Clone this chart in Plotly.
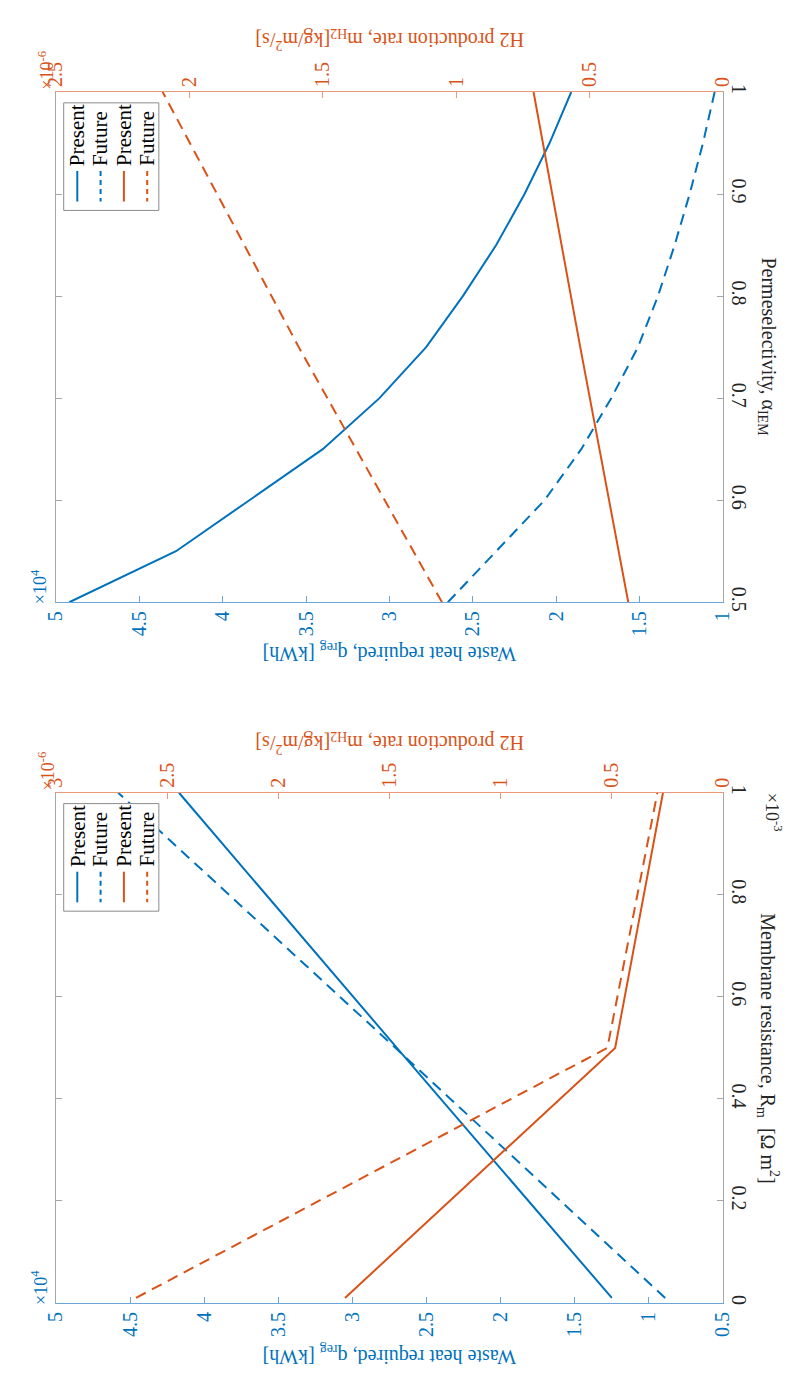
import plotly.graph_objects as go

W, H = 793, 1382
BLUE = "#0072BD"
ORANGE = "#D95319"
BLUE_LINE = "#6BA6D8"
ORANGE_LINE = "#EA9A78"
GRAY_LINE = "#A6A6A6"
DARK = "#262626"
FONT = "Liberation Serif"

# ---------------- data: top panel (permeselectivity) ----------------
alpha = [0.5, 0.55, 0.6, 0.65, 0.7, 0.75, 0.8, 0.85, 0.9, 0.95, 1.0]
heat_present_alpha = [4.92, 4.28, 3.84, 3.40, 3.06, 2.78, 2.56, 2.36, 2.19, 2.04, 1.91]  # x1e4 kWh
heat_future_alpha = [2.65, 2.36, 2.07, 1.85, 1.67, 1.51, 1.39, 1.29, 1.20, 1.12, 1.05]   # x1e4 kWh
alpha_h2 = [0.5, 0.75, 1.0]
h2_present_alpha = [0.355, 0.535, 0.71]  # x1e-6 kg/m2/s
h2_future_alpha = [1.053, 1.59, 2.10]    # x1e-6 kg/m2/s

# ---------------- data: bottom panel (membrane resistance) ----------------
rm = [0.01, 0.5, 1.0]                     # x1e-3 Ohm m2
heat_present_rm = [1.25, 2.70, 4.17]      # x1e4 kWh
heat_future_rm = [0.89, 2.71, 4.58]       # x1e4 kWh
h2_present_rm = [1.70, 0.485, 0.27]       # x1e-6 kg/m2/s
h2_future_rm = [2.64, 0.52, 0.295]        # x1e-6 kg/m2/s

# tick labels
heat_ticks_top = [1, 1.5, 2, 2.5, 3, 3.5, 4, 4.5, 5]
h2_ticks_top = [0, 0.5, 1, 1.5, 2, 2.5]
alpha_ticks = [0.5, 0.6, 0.7, 0.8, 0.9, 1.0]
heat_ticks_bot = [0.5, 1, 1.5, 2, 2.5, 3, 3.5, 4, 4.5, 5]
h2_ticks_bot = [0, 0.5, 1, 1.5, 2, 2.5, 3]
rm_ticks = [0, 0.2, 0.4, 0.6, 0.8, 1.0]
legend_labels = ["Present", "Future", "Present", "Future"]


def fmt(v):
    return "%g" % v


def px(x):
    return x / W


def py(y):
    return 1 - y / H


# layout geometry (pixels)
XL, XR = 37, 724
TOP1, BOT1 = 77, 594
TOP2, BOT2 = 787, 1304

fig = go.Figure()

DASH = "11px,7px"

# top panel traces
fig.add_trace(go.Scatter(x=heat_present_alpha, y=alpha, xaxis="x", yaxis="y", mode="lines",
                         line=dict(color=BLUE, width=2), showlegend=False))
fig.add_trace(go.Scatter(x=heat_future_alpha, y=alpha, xaxis="x", yaxis="y", mode="lines",
                         line=dict(color=BLUE, width=2, dash=DASH), showlegend=False))
fig.add_trace(go.Scatter(x=h2_present_alpha, y=alpha_h2, xaxis="x2", yaxis="y", mode="lines",
                         line=dict(color=ORANGE, width=2), showlegend=False))
fig.add_trace(go.Scatter(x=h2_future_alpha, y=alpha_h2, xaxis="x2", yaxis="y", mode="lines",
                         line=dict(color=ORANGE, width=2, dash=DASH), showlegend=False))

# bottom panel traces
fig.add_trace(go.Scatter(x=heat_present_rm, y=rm, xaxis="x3", yaxis="y2", mode="lines",
                         line=dict(color=BLUE, width=2), showlegend=False))
fig.add_trace(go.Scatter(x=heat_future_rm, y=rm, xaxis="x3", yaxis="y2", mode="lines",
                         line=dict(color=BLUE, width=2, dash=DASH), showlegend=False))
fig.add_trace(go.Scatter(x=h2_present_rm, y=rm, xaxis="x4", yaxis="y2", mode="lines",
                         line=dict(color=ORANGE, width=2), showlegend=False))
fig.add_trace(go.Scatter(x=h2_future_rm, y=rm, xaxis="x4", yaxis="y2", mode="lines",
                         line=dict(color=ORANGE, width=2, dash=DASH), showlegend=False))

xdom = [px(XL), px(XR)]


def tickfont(c):
    return dict(family=FONT, size=20, color=c)


def xax(rng, ticks, color, linecolor, side, anchor, overlaying=None):
    d = dict(range=rng, tickmode="array", tickvals=ticks, ticktext=[fmt(t) for t in ticks],
             tickangle=-90, ticks="inside", ticklen=6, tickcolor=linecolor,
             showline=True, linecolor=linecolor, linewidth=1, showgrid=False,
             zeroline=False, tickfont=tickfont(color), side=side, anchor=anchor,
             domain=xdom)
    if overlaying:
        d["overlaying"] = overlaying
        d.pop("domain")
    return d


def yax(rng, ticks, dom, anchor):
    return dict(range=rng, tickmode="array", tickvals=ticks, ticktext=[fmt(t) for t in ticks],
                tickangle=90, ticks="inside", ticklen=6, tickcolor=GRAY_LINE,
                showline=True, linecolor=GRAY_LINE, linewidth=1, mirror="ticks",
                showgrid=False, zeroline=False, tickfont=tickfont(DARK), side="right",
                anchor=anchor, domain=dom)


annotations = []
shapes = []


def ann(text, x, y, angle, color, size=20, xanchor="center", yanchor="middle"):
    annotations.append(dict(text=text, x=px(x), y=py(y), xref="paper", yref="paper",
                            textangle=angle, showarrow=False, xanchor=xanchor, yanchor=yanchor,
                            font=dict(family=FONT, size=size, color=color)))


def panel_text(top, bot, xtitle, h2_title_y, heat_title_y):
    ann("H2 production rate, m<sub>H2</sub>[kg/m<sup>2</sup>/s]", (XL + XR) / 2, h2_title_y, 180, ORANGE)
    ann("Waste heat required, q<sub>reg</sub> [kWh]", (XL + XR) / 2, heat_title_y, 180, BLUE)
    ann(xtitle, 770, (top + bot) / 2, 90, DARK)
    ann("×10<sup>4</sup>", 20, bot + 4, -90, BLUE, size=18, yanchor="bottom")
    ann("×10<sup>-6</sup>", 27, top, -90, ORANGE, size=18, yanchor="bottom")


def legend(top):
    bx0, bx1 = 45, 143
    by0, by1 = top + 11, top + 120
    shapes.append(dict(type="rect", xref="paper", yref="paper", x0=px(bx0), x1=px(bx1),
                       y0=py(by1), y1=py(by0), fillcolor="white",
                       line=dict(color="#8C8C8C", width=1), layer="above"))
    xs = [59, 83, 107, 131]
    cols = [BLUE, BLUE, ORANGE, ORANGE]
    dashes = ["solid", "5px,4px", "solid", "5px,4px"]
    for xv, c, d, lab in zip(xs, cols, dashes, legend_labels):
        shapes.append(dict(type="line", xref="paper", yref="paper", x0=px(xv), x1=px(xv),
                           y0=py(top + 80), y1=py(top + 111),
                           line=dict(color=c, width=2, dash=d), layer="above"))
        ann(lab, xv, top + 77, -90, "black", size=21, yanchor="bottom")


panel_text(TOP1, BOT1, "Permeselectivity, α<sub>IEM</sub>", 24, 645)
panel_text(TOP2, BOT2, "Membrane resistance, R<sub>m</sub>  [Ω m<sup>2</sup>]", 736, 1357)
ann("×10<sup>-3</sup>", 776, TOP2 - 2, 90, DARK, size=18, yanchor="top")
legend(TOP1)
legend(TOP2)

fig.update_layout(
    width=W, height=H, autosize=False,
    margin=dict(l=0, r=0, t=0, b=0),
    paper_bgcolor="white", plot_bgcolor="white",
    showlegend=False,
    xaxis=xax([5, 1], heat_ticks_top, BLUE, BLUE_LINE, "bottom", "y"),
    xaxis2=xax([2.5, 0], h2_ticks_top, ORANGE, ORANGE_LINE, "top", "y", overlaying="x"),
    yaxis=yax([0.5, 1.0], alpha_ticks, [py(BOT1), py(TOP1)], "x"),
    xaxis3=xax([5, 0.5], heat_ticks_bot, BLUE, BLUE_LINE, "bottom", "y2"),
    xaxis4=xax([3, 0], h2_ticks_bot, ORANGE, ORANGE_LINE, "top", "y2", overlaying="x3"),
    yaxis2=yax([0, 1.0], rm_ticks, [py(BOT2), py(TOP2)], "x3"),
    annotations=annotations,
    shapes=shapes,
)

fig.write_html("out.html")
